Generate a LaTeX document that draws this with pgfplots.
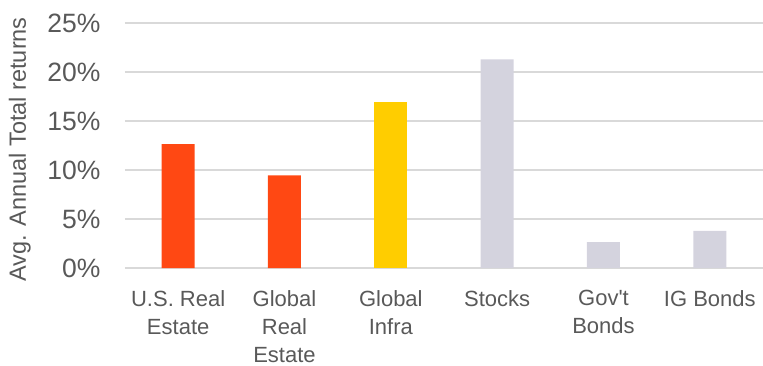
\documentclass[border=0pt]{standalone}
\usepackage{pgfplots}
\pgfplotsset{compat=1.18}
\usepackage{fontspec}
\setmainfont{Liberation Sans}
\definecolor{bred}{HTML}{FF4813}
\definecolor{byel}{HTML}{FFCD00}
\definecolor{bgray}{HTML}{D4D3DE}
\definecolor{grid}{HTML}{D9D9D9}
\definecolor{txt}{HTML}{595959}
\begin{document}
\begin{tikzpicture}
\begin{axis}[
  scale only axis,
  width=638bp, height=245bp,
  xmin=-0.5, xmax=5.5,
  ymin=0, ymax=25,
  ytick={0,5,10,15,20,25},
  yticklabel={\pgfmathprintnumber{\tick}\%},
  /pgf/number format/assume math mode=true,
  xtick={0,1,2,3,4,5},
  xticklabels={{U.S. Real\\Estate},{Global\\Real\\Estate},{Global\\Infra},{Stocks},{Gov\textquotesingle t\\Bonds},{IG Bonds}},
  xticklabel style={align=center, font=\fontsize{22bp}{28bp}\selectfont, text=txt, anchor=north, yshift=-19bp},
  yticklabel style={font=\fontsize{26.5bp}{28bp}\selectfont, text=txt, xshift=-21bp},
  major tick length=0pt,
  axis line style={draw=none},
  ymajorgrids,
  grid style={draw=grid, line width=1.5bp},
  ylabel={Avg. Annual Total returns},
  every axis y label/.style={at={(axis description cs:-0.165,0.484)}, rotate=90, anchor=center, font=\fontsize{23.5bp}{24bp}\selectfont, text=txt},
  ybar, bar width=33bp,
  clip=false,
]
\addplot[fill=bred, draw=none, bar shift=0pt] coordinates {(0,12.65) (1,9.46)};
\addplot[fill=byel, draw=none, bar shift=0pt] coordinates {(2,16.9)};
\addplot[fill=bgray, draw=none, bar shift=0pt] coordinates {(3,21.3) (4,2.65) (5,3.78)};
\end{axis}
\pgfresetboundingbox
\path (current axis.south west) ++(-125bp,-98bp) rectangle ++(763bp,366bp);
\end{tikzpicture}
\end{document}
